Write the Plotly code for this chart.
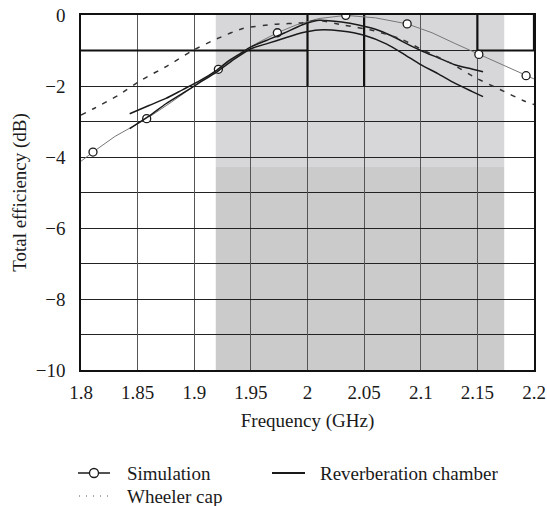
import plotly.graph_objects as go

# Frequency axis (GHz) and efficiency (dB) readings
sim_freq = [1.800, 1.8106, 1.830, 1.858, 1.880, 1.900, 1.9213, 1.940, 1.955, 1.9734,
            1.990, 2.010, 2.0338, 2.060, 2.088, 2.110, 2.130, 2.1513, 2.170, 2.193, 2.200]
sim_eff = [-4.12, -3.86, -3.42, -2.92, -2.45, -2.00, -1.53, -1.10, -0.80, -0.50,
           -0.28, -0.10, -0.01, -0.08, -0.25, -0.50, -0.80, -1.11, -1.38, -1.71, -1.80]
sim_marker_freq = [1.8106, 1.858, 1.9213, 1.9734, 2.0338, 2.088, 2.1513, 2.193]
sim_marker_eff = [-3.86, -2.92, -1.53, -0.50, -0.01, -0.25, -1.11, -1.71]

rc1_freq = [1.843, 1.860, 1.875, 1.890, 1.905, 1.920, 1.930, 1.940, 1.950, 1.965, 1.980,
            1.995, 2.010, 2.030, 2.045, 2.060, 2.075, 2.090, 2.100, 2.115, 2.130, 2.145, 2.155]
rc1_eff = [-2.78, -2.55, -2.35, -2.10, -1.85, -1.55, -1.30, -1.10, -0.90, -0.70, -0.50,
           -0.28, -0.15, -0.20, -0.28, -0.40, -0.60, -0.85, -1.00, -1.20, -1.40, -1.52, -1.60]

rc2_freq = [1.843, 1.860, 1.875, 1.890, 1.905, 1.920, 1.935, 1.950, 1.965, 1.980, 1.995,
            2.010, 2.030, 2.050, 2.070, 2.085, 2.100, 2.115, 2.130, 2.145, 2.155]
rc2_eff = [-3.20, -2.85, -2.50, -2.20, -1.90, -1.60, -1.25, -0.95, -0.80, -0.65, -0.50,
           -0.42, -0.45, -0.57, -0.82, -1.10, -1.40, -1.65, -1.92, -2.15, -2.30]

wc_freq = [1.800, 1.811, 1.833, 1.854, 1.877, 1.898, 1.920, 1.943, 1.971, 1.996,
           2.008, 2.033, 2.057, 2.082, 2.104, 2.126, 2.148, 2.170, 2.192, 2.200]
wc_eff = [-2.82, -2.64, -2.26, -1.82, -1.42, -1.01, -0.67, -0.38, -0.26, -0.22,
          -0.15, -0.29, -0.43, -0.67, -1.02, -1.35, -1.76, -2.10, -2.43, -2.52]

x_ticks = [1.8, 1.85, 1.9, 1.95, 2.0, 2.05, 2.1, 2.15, 2.2]
x_tick_text = ["1.8", "1.85", "1.9", "1.95", "2", "2.05", "2.1", "2.15", "2.2"]

legend_labels = ["Simulation", "Reverberation chamber", "Wheeler cap"]

FONT = "Liberation Serif"
INK = "#1a1a1a"
W, H = 547, 506
ML, MR, MT, MB = 81, 13, 15, 136
PW, PH = W - ML - MR, H - MT - MB


def px(x):
    """figure pixel column -> paper x"""
    return (x - ML) / PW


def py(y):
    """figure pixel row -> paper y"""
    return (H - MB - y) / PH


fig = go.Figure()

fig.add_trace(go.Scatter(x=sim_freq, y=sim_eff, mode="lines",
                         line=dict(color="#777777", width=1), showlegend=False,
                         hoverinfo="skip"))
fig.add_trace(go.Scatter(x=sim_marker_freq, y=sim_marker_eff, mode="markers",
                         marker=dict(symbol="circle", size=8, color="white",
                                     line=dict(color=INK, width=1.3)),
                         showlegend=False, name=legend_labels[0]))
fig.add_trace(go.Scatter(x=rc1_freq, y=rc1_eff, mode="lines", name=legend_labels[1],
                         line=dict(color=INK, width=1.5, shape="spline", smoothing=0.6),
                         showlegend=False))
fig.add_trace(go.Scatter(x=rc2_freq, y=rc2_eff, mode="lines", name=legend_labels[1],
                         line=dict(color=INK, width=1.5, shape="spline", smoothing=0.6),
                         showlegend=False))
fig.add_trace(go.Scatter(x=wc_freq, y=wc_eff, mode="lines", name=legend_labels[2],
                         line=dict(color="#333333", width=1.5, dash="5px,7px",
                                   shape="spline", smoothing=0.6),
                         showlegend=False))

shapes = [
    # shaded frequency band
    dict(type="rect", xref="x", yref="y", x0=1.919, x1=2.1737, y0=-4.28, y1=0,
         fillcolor="#d7d6d9", line=dict(width=0), layer="below"),
    dict(type="rect", xref="x", yref="y", x0=1.919, x1=2.1737, y0=-10, y1=-4.28,
         fillcolor="#cbcbcb", line=dict(width=0), layer="below"),
]
# heavier template segments
for x0, y0, x1, y1 in [(1.8, -1, 2.0, -1), (2.0, 0, 2.0, -2), (2.05, 0, 2.05, -2),
                       (2.15, 0, 2.15, -1), (2.15, -1, 2.2, -1), (2.2, 0, 2.2, -1)]:
    shapes.append(dict(type="line", xref="x", yref="y", x0=x0, y0=y0, x1=x1, y1=y1,
                       line=dict(color="#111111", width=2.2), layer="between"))

# legend key: symbols below the plot
row1, row2 = 473, 496
shapes += [
    dict(type="line", xref="paper", yref="paper", x0=px(78), x1=px(110),
         y0=py(row1), y1=py(row1), line=dict(color=INK, width=1.5)),
    dict(type="circle", xref="paper", yref="paper", xsizemode="pixel", ysizemode="pixel",
         xanchor=px(94), yanchor=py(row1), x0=-4.5, x1=4.5, y0=-4.5, y1=4.5,
         fillcolor="white", line=dict(color=INK, width=1.3)),
    dict(type="line", xref="paper", yref="paper", x0=px(272), x1=px(305),
         y0=py(row1), y1=py(row1), line=dict(color=INK, width=2)),
    dict(type="line", xref="paper", yref="paper", x0=px(79), x1=px(110),
         y0=py(row2), y1=py(row2), line=dict(color="#555555", width=1, dash="1px,6px")),
]
fig.update_layout(shapes=shapes)

annotations = [
    dict(text=legend_labels[0], x=px(125), y=py(row1)),
    dict(text=legend_labels[1], x=px(318), y=py(row1)),
    dict(text=legend_labels[2], x=px(125), y=py(row2)),
]
for a in annotations:
    a.update(xref="paper", yref="paper", xanchor="left", yanchor="middle",
             showarrow=False, font=dict(size=19, color=INK, family=FONT))
fig.update_layout(annotations=annotations)

fig.update_layout(
    width=W, height=H,
    margin=dict(l=ML, r=MR, t=MT, b=MB, autoexpand=False),
    paper_bgcolor="white", plot_bgcolor="white",
    showlegend=False,
    font=dict(family=FONT, size=19, color=INK),
    xaxis=dict(range=[1.8, 2.2], tickvals=x_ticks, ticktext=x_tick_text,
               showgrid=True, gridcolor="#555555", gridwidth=1,
               showline=True, linecolor="#111111", linewidth=1.5, mirror=True,
               ticks="", zeroline=False, ticklabelstandoff=4,
               title=dict(text="Frequency (GHz)", standoff=12, font=dict(size=19))),
    yaxis=dict(range=[-10, 0], dtick=2, tick0=0,
               showgrid=True, gridcolor="#222222", gridwidth=1,
               minor=dict(dtick=1, showgrid=True, gridcolor="#222222", gridwidth=1),
               showline=True, linecolor="#111111", linewidth=1.5, mirror=True,
               ticks="", zeroline=False, ticklabelstandoff=10,
               title=dict(text="Total efficiency (dB)", standoff=4, font=dict(size=19))),
)

fig.write_html("out.html")
